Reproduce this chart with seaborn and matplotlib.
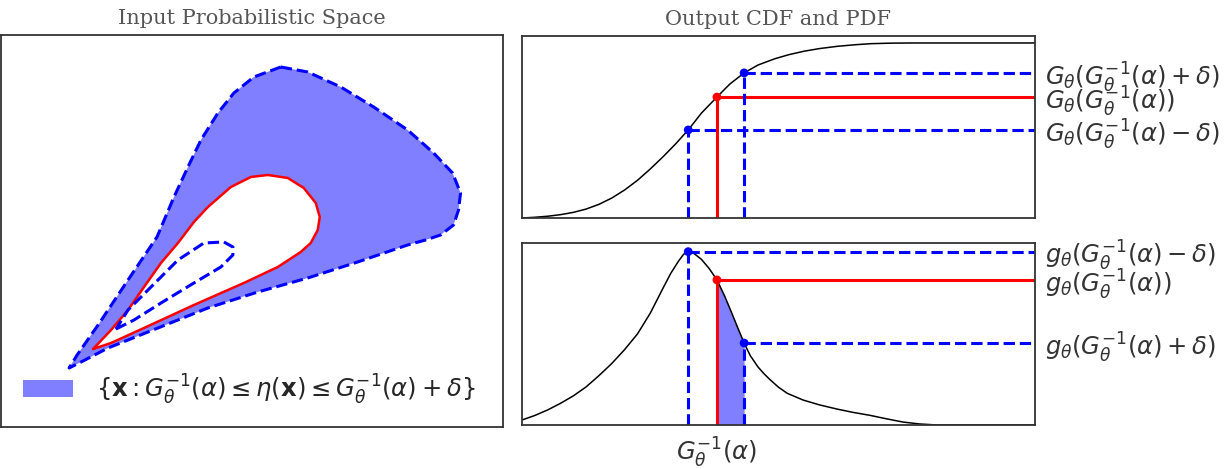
import numpy as np
import matplotlib
matplotlib.use("Agg")
import matplotlib.pyplot as plt
from matplotlib.patches import Patch
import seaborn as sns

# ---- left panel: contour outlines ----
outer_x = [28.0, 30.7, 34.0, 37.3, 40.7, 43.3, 45.2, 46.0, 45.8, 45.3, 44.0, 42.5, 40.7,
           35.7, 30.7, 25.7, 20.7, 15.7, 10.7, 8.0, 6.8, 7.6, 9.7, 12.9, 15.6, 17.3,
           18.7, 20.0, 21.7, 23.3, 25.3, 28.0]
outer_y = [36.0, 35.5, 34.0, 32.0, 29.7, 27.4, 25.4, 23.4, 21.7, 20.2, 19.2, 18.7, 18.2,
           16.5, 14.9, 13.5, 11.9, 9.9, 7.9, 6.5, 5.9, 7.2, 10.2, 15.0, 19.0, 23.0,
           26.0, 28.7, 31.4, 33.4, 35.0, 36.0]

red_x = [9.2, 11.0, 12.7, 14.3, 16.0, 17.7, 19.3, 20.7, 23.0, 25.0, 26.7, 28.7, 30.3,
         31.5, 31.9, 31.7, 31.0, 30.0, 27.7, 24.3, 19.3, 14.3, 11.0, 9.2]
red_y = [7.8, 9.7, 11.7, 14.0, 16.4, 18.4, 20.5, 22.0, 24.0, 25.0, 25.2, 24.9, 23.9,
         22.4, 21.0, 19.7, 18.4, 17.5, 16.0, 14.4, 12.2, 9.9, 8.4, 7.8]

inner_x = [11.5, 13.3, 16.0, 19.3, 22.0, 23.2, 23.2, 22.3, 20.3, 17.7, 15.0, 12.7, 11.5]
inner_y = [9.8, 10.7, 12.4, 14.4, 16.0, 17.2, 18.0, 18.5, 18.4, 16.7, 14.0, 11.7, 9.8]

# ---- right panels: CDF and PDF ----
cdf_x = [0.0, 2.5, 5.0, 7.5, 10.0, 12.5, 15.0, 17.5, 20.0, 22.5, 25.0, 27.5, 30.0, 32.4,
         35.0, 38.0, 40.5, 43.3, 46.0, 49.3, 52.0, 55.0, 58.0, 61.5, 65.0, 68.0, 72.0,
         76.0, 100.0]
cdf_y = [0.0, 0.004, 0.010, 0.019, 0.032, 0.051, 0.078, 0.114, 0.160, 0.215, 0.280,
         0.350, 0.425, 0.503, 0.600, 0.691, 0.765, 0.829, 0.874, 0.910, 0.933, 0.953,
         0.968, 0.981, 0.990, 0.996, 0.999, 1.0, 1.0]

pdf_x = [0.0, 2.5, 5.0, 7.5, 10.0, 12.5, 15.0, 17.5, 20.0, 22.5, 25.0, 27.5, 29.0, 30.5,
         31.5, 32.4, 33.5, 35.0, 36.5, 38.0, 39.5, 40.9, 42.0, 43.3, 44.5, 46.0, 47.2,
         48.3, 50.0, 51.7, 54.8, 58.0, 61.4, 64.5, 67.8, 71.0, 74.3, 77.5, 81.0, 100.0]
pdf_y = [0.029, 0.055, 0.087, 0.125, 0.168, 0.220, 0.285, 0.355, 0.435, 0.525, 0.645,
         0.790, 0.875, 0.945, 0.985, 1.0, 0.99, 0.955, 0.902, 0.837, 0.744, 0.645, 0.565,
         0.473, 0.400, 0.335, 0.295, 0.263, 0.218, 0.183, 0.144, 0.116, 0.092, 0.073,
         0.056, 0.036, 0.017, 0.006, 0.0, 0.0]

# quantile points: G^-1(a)-d, G^-1(a), G^-1(a)+d
q_x = [32.4, 38.0, 43.3]
cdf_q = [0.503, 0.691, 0.829]
pdf_q = [1.0, 0.837, 0.473]
q_colors = ["blue", "red", "blue"]
q_styles = ["--", "-", "--"]

cdf_labels = [r"$G_\theta(G_\theta^{-1}(\alpha)-\delta)$", r"$G_\theta(G_\theta^{-1}(\alpha))$",
              r"$G_\theta(G_\theta^{-1}(\alpha)+\delta)$"]
pdf_labels = [r"$g_\theta(G_\theta^{-1}(\alpha)-\delta)$", r"$g_\theta(G_\theta^{-1}(\alpha))$",
              r"$g_\theta(G_\theta^{-1}(\alpha)+\delta)$"]
legend_label = (r"$\{\mathbf{x}: G_\theta^{-1}(\alpha) \leq \eta(\mathbf{x}) \leq "
                r"G_\theta^{-1}(\alpha) + \delta\}$")

sns.set_style("white")
plt.rcParams["font.family"] = ["DejaVu Sans"]
plt.rcParams["mathtext.fontset"] = "dejavusans"

fig = plt.figure(figsize=(12.28, 4.69), dpi=100)
ax1 = fig.add_axes([0.001, 0.0896, 0.409, 0.8358])
ax2 = fig.add_axes([0.4251, 0.5352, 0.4177, 0.3881])
ax3 = fig.add_axes([0.4251, 0.0938, 0.4177, 0.3881])

fill_col = (0, 0, 1, 0.5)
lab_size = 17.5
title_kw = dict(family="DejaVu Serif", color="#555555", fontsize=15, pad=8)

# left panel
ax1.fill(outer_x, outer_y, color=fill_col, lw=0)
ax1.fill(red_x, red_y, color="white", lw=0)
sns.lineplot(x=outer_x, y=outer_y, ax=ax1, estimator=None, sort=False,
             color="blue", lw=2.2, linestyle="--")
sns.lineplot(x=red_x, y=red_y, ax=ax1, estimator=None, sort=False, color="red", lw=1.8)
sns.lineplot(x=inner_x, y=inner_y, ax=ax1, estimator=None, sort=False,
             color="blue", lw=2.2, linestyle="--")
ax1.set_xlim(0, 50.3)
ax1.set_ylim(0, 39.2)
ax1.set_xticks([])
ax1.set_yticks([])
ax1.set_title("Input Probabilistic Space", **title_kw)
ax1.legend(handles=[Patch(facecolor=fill_col, edgecolor="none")], labels=[legend_label],
           loc="lower left", bbox_to_anchor=(0.024, 0.027), borderaxespad=0,
           frameon=False, fontsize=lab_size,
           handlelength=2.06, handleheight=0.7, handletextpad=0.95)

# CDF panel
sns.lineplot(x=cdf_x, y=cdf_y, ax=ax2, estimator=None, sort=False, color="black", lw=1.1)
ax2.set_xlim(0, 100)
ax2.set_ylim(0, 1.04)
for xq, yq, c, ls in zip(q_x, cdf_q, q_colors, q_styles):
    ax2.plot([xq, 100], [yq, yq], color=c, ls=ls, lw=2.2)
    ax2.plot([xq, xq], [0, yq], color=c, ls=ls, lw=2.2)
sns.scatterplot(x=q_x, y=cdf_q, hue=q_colors, palette={"blue": "blue", "red": "red"},
                ax=ax2, s=40, edgecolor="none", legend=False, zorder=5)
ax2.set_title("Output CDF and PDF", **title_kw)

# PDF panel
pdf_x_arr = np.array(pdf_x)
pdf_y_arr = np.array(pdf_y)
band = (pdf_x_arr >= q_x[1]) & (pdf_x_arr <= q_x[2])
ax3.fill_between(pdf_x_arr[band], 0, pdf_y_arr[band], color=fill_col, lw=0)
sns.lineplot(x=pdf_x, y=pdf_y, ax=ax3, estimator=None, sort=False, color="black", lw=1.1)
ax3.set_xlim(0, 100)
ax3.set_ylim(0, 1.05)
for xq, yq, c, ls in zip(q_x, pdf_q, q_colors, q_styles):
    ax3.plot([xq, 100], [yq, yq], color=c, ls=ls, lw=2.2)
    ax3.plot([xq, xq], [0, yq], color=c, ls=ls, lw=2.2)
sns.scatterplot(x=q_x, y=pdf_q, hue=q_colors, palette={"blue": "blue", "red": "red"},
                ax=ax3, s=40, edgecolor="none", legend=False, zorder=5)

for ax, labels, ys in [(ax2, cdf_labels, cdf_q), (ax3, pdf_labels, pdf_q)]:
    ax.yaxis.tick_right()
    ax.set_yticks(ys)
    ax.set_yticklabels(labels)
    ax.tick_params(axis="y", length=0, pad=7, labelsize=lab_size, colors="#333333")
    ax.set_xticks([])
ax3.set_xticks([q_x[1]])
ax3.set_xticklabels([r"$G_\theta^{-1}(\alpha)$"])
ax3.tick_params(axis="x", length=0, pad=8, labelsize=lab_size, colors="#333333")

for ax in (ax1, ax2, ax3):
    for sp in ax.spines.values():
        sp.set_color("#333333")
        sp.set_linewidth(1.3)
        sp.set_visible(True)

fig.savefig("out.png", dpi=100)
